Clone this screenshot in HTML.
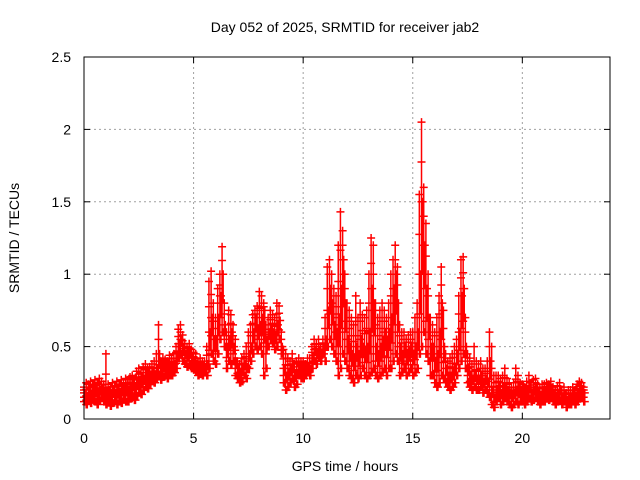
<!DOCTYPE html>
<html><head><meta charset="utf-8"><style>
html,body{margin:0;padding:0;background:#fff}
svg{display:block;font-family:"Liberation Sans",sans-serif}
</style></head><body>
<svg id="chart" width="640" height="480" viewBox="0 0 640 480">
<text x="345" y="32" font-size="14" text-anchor="middle">Day 052 of 2025, SRMTID for receiver jab2</text>
<text x="345" y="471" font-size="14" text-anchor="middle">GPS time / hours</text>
<text transform="translate(19,238) rotate(-90)" font-size="14" text-anchor="middle">SRMTID / TECUs</text>
<g id="grid"></g><g id="marks"></g><g id="axes"></g>
</svg>
<script>
const xTicks=[0,5,10,15,20];
const yTicks=[0,0.5,1,1.5,2,2.5];
const yTickLabels=["0","0.5","1","1.5","2","2.5"];
const lo=[.12,.10,.13,.11,.14,.12,.10,.13,.15,.12,
.1,.12,.09,.11,.13,.1,.12,.11,.14,.12,
.12,.14,.15,.13,.16,.18,.17,.2,.22,.21,
.24,.26,.25,.28,.3,.27,.29,.3,.28,.3,
.3,.32,.35,.42,.45,.4,.38,.36,.38,.35,
.34,.33,.3,.31,.3,.32,.3,.35,.45,.4,
.38,.45,.55,.6,.5,.35,.4,.38,.4,.3,
.28,.25,.26,.3,.28,.35,.4,.45,.5,.48,
.5,.45,.3,.35,.5,.55,.52,.48,.5,.55,
.45,.25,.2,.22,.25,.28,.22,.24,.3,.28,
.28,.3,.32,.3,.35,.4,.38,.42,.4,.45,
.4,.5,.55,.5,.45,.4,.3,.35,.45,.4,
.35,.3,.28,.25,.3,.28,.3,.35,.3,.28,
.3,.32,.35,.3,.28,.3,.32,.35,.3,.35,
.35,.4,.45,.4,.3,.32,.35,.3,.32,.35,
.3,.32,.35,.45,.5,.6,.45,.4,.3,.3,
.25,.22,.25,.3,.28,.25,.22,.2,.22,.25,
.3,.35,.4,.45,.35,.25,.22,.2,.22,.2,
.2,.22,.18,.2,.18,.15,.1,.08,.12,.15,
.1,.12,.15,.12,.1,.08,.1,.12,.1,.12,
.12,.1,.12,.14,.12,.13,.15,.12,.1,.12,
.12,.14,.13,.15,.12,.1,.12,.13,.1,.12,
.08,.1,.1,.12,.1,.12,.14,.15,.12];
const mid=[.18,.16,.2,.17,.22,.19,.18,.2,.21,.18,
.17,.2,.16,.19,.18,.2,.17,.21,.2,.22,
.2,.22,.24,.21,.25,.27,.26,.28,.3,.29,
.3,.32,.31,.35,.45,.33,.36,.35,.34,.36,
.36,.38,.42,.52,.55,.5,.45,.44,.46,.42,
.4,.38,.35,.36,.34,.36,.38,.6,.7,.55,
.55,.7,.85,1.0,.65,.5,.55,.6,.5,.4,
.35,.32,.35,.38,.36,.45,.5,.6,.7,.62,
.65,.7,.75,.55,.6,.62,.6,.58,.65,.68,
.5,.35,.3,.32,.35,.38,.3,.32,.36,.34,
.34,.35,.36,.35,.42,.48,.45,.48,.46,.5,
.55,.75,.9,.8,.65,.6,.7,.9,1.1,.8,
.55,.5,.45,.42,.5,.45,.55,.5,.48,.5,
.6,.9,.8,.5,.45,.5,.55,.6,.55,.6,
.7,.9,1.0,.8,.5,.45,.5,.45,.48,.5,
.45,.5,.6,1.0,1.5,1.2,.9,.7,.5,.5,
.4,.45,.6,.8,.5,.35,.3,.3,.32,.35,
.45,.6,.85,.9,.5,.35,.3,.28,.3,.28,
.28,.3,.25,.28,.26,.4,.2,.15,.2,.22,
.18,.2,.22,.2,.18,.16,.18,.2,.22,.2,
.18,.16,.2,.22,.18,.2,.22,.18,.16,.18,
.18,.2,.19,.2,.17,.16,.18,.2,.15,.17,
.13,.15,.15,.17,.16,.18,.2,.2,.18];
const hi=[.22,.25,.24,.26,.23,.27,.25,.28,.26,.24,
.45,.24,.22,.25,.23,.26,.24,.27,.25,.28,
.27,.29,.3,.28,.33,.35,.32,.36,.38,.35,
.36,.38,.4,.45,.65,.4,.42,.41,.4,.44,
.42,.45,.5,.62,.65,.58,.52,.5,.52,.48,
.46,.45,.4,.42,.4,.4,.5,.95,1.02,.8,
.7,.9,1.0,1.19,.8,.6,.75,.72,.65,.55,
.4,.38,.42,.45,.5,.6,.65,.72,.75,.78,
.88,.85,.8,.65,.7,.75,.72,.7,.8,.78,
.6,.48,.45,.42,.4,.45,.38,.4,.42,.4,
.4,.38,.42,.42,.5,.55,.52,.55,.5,.55,
.7,1.05,1.1,1.0,.9,.85,1.2,1.43,1.3,1.0,
.8,.75,.7,.65,.85,.7,.8,.72,.7,.75,
1.0,1.25,1.2,.8,.7,.75,.8,.75,.7,.8,
1.0,1.1,1.2,1.05,.65,.6,.6,.55,.58,.6,
.6,.7,.8,1.55,2.05,1.6,1.35,1.0,.7,.65,
.6,.7,.85,1.05,.75,.45,.4,.42,.45,.5,
.55,.85,1.1,1.12,.7,.45,.42,.38,.5,.4,
.38,.4,.35,.35,.4,.6,.5,.3,.3,.3,
.28,.3,.35,.28,.25,.22,.25,.35,.3,.25,
.24,.22,.26,.3,.25,.27,.28,.24,.22,.24,
.24,.25,.24,.26,.22,.2,.23,.25,.2,.22,
.18,.2,.2,.22,.2,.24,.26,.25,.22];
const hourStep=0.1;
const L=84,R=610,T=57,B=419;
const xs=h=>L+(R-L)*h/24;
const ys=v=>B-(B-T)*v/2.5;
const NS="http://www.w3.org/2000/svg";
function mk(tag,attrs,parent){const e=document.createElementNS(NS,tag);for(const k in attrs)e.setAttribute(k,attrs[k]);parent.appendChild(e);return e;}
const grid=document.getElementById('grid'),marks=document.getElementById('marks'),axes=document.getElementById('axes');
xTicks.forEach(t=>{const x=xs(t);
if(t>0){const g=mk('line',{x1:x,x2:x,y1:T,y2:B,stroke:'#a0a0a0','stroke-dasharray':'2,3'},grid);

}
const tx=mk('text',{x:x,y:443,'font-size':14,'text-anchor':'middle'},axes);tx.textContent=t;


mk('line',{x1:x,x2:x,y1:B,y2:B-6,stroke:'#000'},axes);mk('line',{x1:x,x2:x,y1:T,y2:T+6,stroke:'#000'},axes);});
yTicks.forEach((t,i)=>{const y=ys(t);
if(t>0&&t<2.5){const g=mk('line',{x1:L,x2:R,y1:y,y2:y,stroke:'#a0a0a0','stroke-dasharray':'2,3'},grid);

}
const tx=mk('text',{x:71,y:y+5,'font-size':14,'text-anchor':'end'},axes);tx.textContent=yTickLabels[i];


mk('line',{x1:L,x2:L+6,y1:y,y2:y,stroke:'#000'},axes);mk('line',{x1:R,x2:R-6,y1:y,y2:y,stroke:'#000'},axes);});
const frame=mk('rect',{x:L,y:T,width:R-L,height:B-T,fill:'none',stroke:'#000'},axes);


let d='';
function cross(x,y){d+=`M${x-4} ${y}h8M${x} ${y-4}v8`;}
lo.forEach((v,i)=>{const x=xs(i*hourStep);const a=ys(v),m=ys(mid[i]),b=ys(hi[i]);
d+=`M${x} ${a}V${b}`;
const x2=xs(i*hourStep+hourStep/2);
d+=`M${x2} ${ys((v+mid[i])/2)}V${m}`;
cross(x,a);cross(x,m);cross(x,b);cross(x2,m);cross(x2,a);cross(x,(a+m)/2);cross(x,(m+b)/2);});
const p=mk('path',{d:d,stroke:'#ff0000','stroke-width':1.5,fill:'none'},marks);


</script>
</body></html>
